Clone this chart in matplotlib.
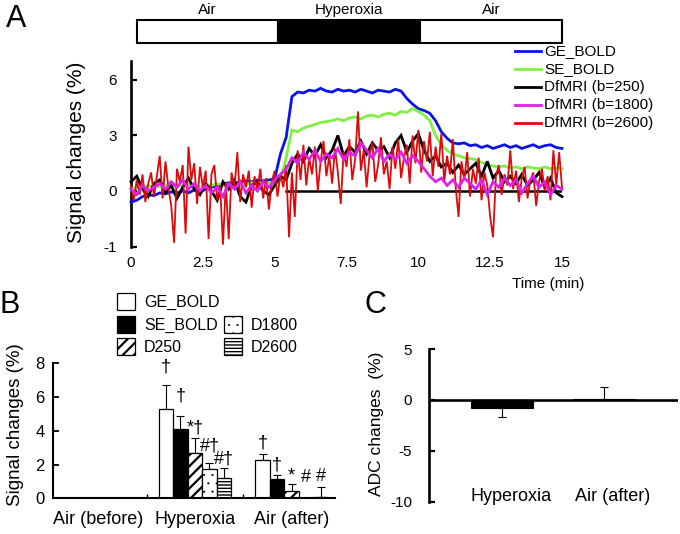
import numpy as np
import matplotlib
matplotlib.use("Agg")
import matplotlib.pyplot as plt
from matplotlib.patches import Rectangle
from matplotlib.lines import Line2D
import matplotlib.transforms as mtransforms

plt.rcParams['font.family'] = ['Liberation Sans', 'DejaVu Sans']
plt.rcParams['hatch.color'] = 'black'
plt.rcParams['axes.unicode_minus'] = False

# ---------------- DATA ----------------
# Panel A time courses (min, % signal change)
t_red = np.round(np.arange(0, 150.5, 1) / 10.0, 2)          # 0.1-min sampling
t_slow = np.round(np.arange(0, 75.5, 1) / 5.0, 2)            # 0.2-min sampling

ge_bold = [-0.6, -0.5, -0.3, -0.2, -0.25, -0.1, -0.15, -0.05, -0.1, 0.0,
           -0.1, 0.05, -0.05, 0.1, 0.2, 0.3, 0.35, 0.45, 0.4, 0.5,
           0.55, 0.5, 0.6, 0.55, 0.6, 0.65, 2.0, 2.9, 5.1, 5.35,
           5.3, 5.45, 5.4, 5.55, 5.4, 5.35, 5.5, 5.4, 5.45, 5.35,
           5.5, 5.4, 5.3, 5.45, 5.4, 5.35, 5.5, 5.4, 5.0, 4.7,
           4.45, 4.35, 4.2, 3.8, 3.2, 2.85, 2.6, 2.55, 2.6, 2.45,
           2.5, 2.35, 2.45, 2.3, 2.4, 2.5, 2.35, 2.45, 2.3, 2.4,
           2.5, 2.35, 2.45, 2.5, 2.35, 2.3]
se_bold = [0.1, 0.2, 0.15, 0.3, 0.2, 0.25, 0.35, 0.2, 0.3, 0.25,
           0.35, 0.3, 0.2, 0.35, 0.3, 0.4, 0.3, 0.35, 0.4, 0.3,
           0.35, 0.45, 0.4, 0.35, 0.45, 0.4, 0.6, 1.8, 3.3, 3.2,
           3.4, 3.5, 3.6, 3.7, 3.75, 3.8, 3.9, 3.8, 3.95, 4.0,
           3.9, 4.05, 4.1, 4.0, 4.15, 4.2, 4.1, 4.3, 4.25, 4.45,
           4.3, 4.1, 3.8, 3.0, 2.5, 2.2, 2.0, 1.9, 1.8, 1.75,
           1.7, 1.55, 1.4, 1.35, 1.3, 1.35, 1.25, 1.3, 1.2, 1.3,
           1.25, 1.2, 1.3, 1.2, 1.25, 1.2]
df_250 = [0.5, 0.8, 0.1, -0.3, 0.4, 0.6, -0.1, 0.3, -0.4, 0.2,
          0.7, 0.1, -0.2, 0.4, 0.0, -0.5, 0.5, 0.1, 0.6, -0.3,
          -0.6, 0.3, 0.5, 0.0, -0.2, 0.3, 0.8, 0.6, 1.5, 2.0,
          1.6, 2.3, 1.9, 2.5, 1.8, 2.2, 3.0, 1.9, 2.4, 2.1,
          2.7, 2.0, 2.6, 2.2, 2.4, 1.8, 2.6, 3.0, 2.1, 2.7,
          3.1, 2.2, 1.6, 1.9, 1.3, 1.5, 1.0, 1.4, 0.9, 1.2,
          1.5, 0.8, 1.6, 0.7, 1.1, 0.5, 0.8, 0.4, 0.9, 0.3,
          0.6, 1.0, 0.2, 0.7, -0.1, -0.3]
df_1800 = [0.1, -0.2, 0.3, 0.0, 0.2, 0.4, 0.1, 0.5, 0.2, 0.6,
           0.1, 0.4, 0.0, 0.3, -0.1, 0.2, -0.3, 0.4, 0.1, 0.5,
           -0.1, 0.3, 0.0, 0.5, 0.2, 0.6, 0.9, 1.2, 1.8, 1.5,
           2.1, 1.7, 2.2, 1.6, 2.0, 1.8, 2.3, 1.7, 2.1, 1.9,
           2.6, 2.2, 1.8, 2.3, 1.6, 2.0, 1.7, 2.1, 1.5, 1.9,
           1.6, 1.2, 0.8, 0.5, 0.7, 0.3, 0.6, 0.2, 0.7, 0.4,
           0.1, 0.6, -0.2, 0.5, 0.2, 0.7, 0.3, 0.6, -0.1, 0.4,
           0.8, 0.2, 0.5, -0.2, 0.3, 0.1]
df_2600 = [0.3, -0.5, 0.6, -0.2, 0.9, -0.6, 0.4, 1.0, -0.3, 0.8,
           1.9, -0.4, 1.6, 0.2, -0.8, -2.8, 1.2, 0.5, 1.4, -2.3,
           2.4, 0.6, 1.5, -0.7, 1.3, 0.2, 1.1, -2.6, 0.9, 1.4,
           -0.5, 0.3, -2.9, 0.4, -2.6, 1.0, 0.1, 2.1, -0.6, 0.9,
           0.2, 1.1, -0.9, 0.8, 0.0, 1.2, -0.4, 0.7, -1.0, 0.5,
           1.1, -0.3, 0.9, 0.2, 1.4, -2.5, 1.0, -1.4, 2.2, 0.6,
           2.5, 0.3, 1.8, 0.9, 2.4, 0.0, 1.6, 2.7, 0.8, 1.9,
           0.4, 2.3, 1.0, -0.7, 2.1, 1.3, 2.8, 0.6, 1.7, 4.3,
           1.1, 2.2, 0.2, 1.9, 2.6, 0.5, 1.4, 2.9, 0.9, 1.6,
           0.1, 2.4, 1.2, 2.8, 0.7, 1.8, 2.5, 0.4, 3.0, 1.5,
           3.3, 1.0, 2.7, 1.6, 3.2, 0.8, 2.4, 1.3, 3.1, 0.5,
           1.9, 0.9, 2.8, 0.2, -1.4, 1.6, 0.6, 2.1, -0.3, 1.2,
           0.4, 1.8, -0.5, 1.0, 0.3, -1.4, -2.5, 0.8, 1.4, -0.2,
           0.9, 0.3, 2.2, 0.1, 1.1, -0.6, 0.7, 1.3, -0.4, 0.6,
           1.0, -0.8, 0.5, 1.2, 0.0, 0.8, -0.5, 2.2, 0.3, 2.1, 0.2]
baseline_t = [5.4, 15.0]
baseline_y = [0.0, 0.0]

A_series = [("GE_BOLD", t_slow, ge_bold, "#0a14e6", 2.0),
            ("SE_BOLD", t_slow, se_bold, "#80f040", 2.0),
            ("DfMRI (b=250)", t_slow, df_250, "#000000", 2.0),
            ("DfMRI (b=2600)", t_red, df_2600, "#dc0a0a", 1.3),
            ("DfMRI (b=1800)", t_slow, df_1800, "#e020e8", 2.0)]
A_legend_order = ["GE_BOLD", "SE_BOLD", "DfMRI (b=250)", "DfMRI (b=1800)", "DfMRI (b=2600)"]
A_xticks = [0, 2.5, 5, 7.5, 10, 12.5, 15]
A_xticklabels = ["0", "2.5", "5", "7.5", "10", "12.5", "15"]
A_yticks = [-3.0, 0, 3, 6]
A_yticklabels = ["-1", "0", "3", "6"]
stim_labels = ["Air", "Hyperoxia", "Air"]
stim_edges = [0.2, 5.1, 10.05, 15.0]
stim_colors = ["white", "black", "white"]

# Panel B
B_groups = ["Air (before)", "Hyperoxia", "Air (after)"]
B_series = ["GE_BOLD", "SE_BOLD", "D250", "D1800", "D2600"]
B_values = {"GE_BOLD": [0.0, 5.3, 2.25],
            "SE_BOLD": [0.0, 4.08, 1.17],
            "D250":    [0.0, 2.67, 0.45],
            "D1800":   [0.0, 1.72, 0.04],
            "D2600":   [0.0, 1.23, 0.10]}
B_errors = {"GE_BOLD": [0.0, 1.42, 0.35],
            "SE_BOLD": [0.0, 0.80, 0.19],
            "D250":    [0.0, 0.89, 0.38],
            "D1800":   [0.0, 0.36, 0.0],
            "D2600":   [0.0, 0.55, 0.55]}
B_face = {"GE_BOLD": "white", "SE_BOLD": "black", "D250": "white",
          "D1800": "white", "D2600": "white"}
B_hatch = {"GE_BOLD": None, "SE_BOLD": None, "D250": "///",
           "D1800": "..", "D2600": "-----"}
B_hatch_lw = {"GE_BOLD": 1.0, "SE_BOLD": 1.0, "D250": 1.6,
              "D1800": 0.3, "D2600": 1.0}
B_annot = [(1, 0, 7.8, "†"), (1, 1, 6.05, "†"), (1, 2, 4.15, "*†"),
           (1, 3, 3.1, "#†"), (1, 4, 2.3, "#†"),
           (2, 0, 3.25, "†"), (2, 1, 2.0, "†"), (2, 2, 1.3, "*"),
           (2, 3, 1.25, "#"), (2, 4, 1.3, "#")]

# Panel C
C_groups = ["Hyperoxia", "Air (after)"]
C_values = [-0.8, 0.1]
C_errors = [0.9, 1.2]

# ---------------- FIGURE ----------------
W, H = 680, 534
fig = plt.figure(figsize=(6.8, 5.34), dpi=100)


def px_axes(l, t, r, b):
    return fig.add_axes([l / W, 1 - b / H, (r - l) / W, (b - t) / H])


def fx(x):
    return x / W


def fy(y):
    return 1 - y / H


def set_hlw(patch, lw):
    if hasattr(patch, "set_hatch_linewidth"):
        try:
            patch.set_hatch_linewidth(lw)
        except Exception:
            pass


# ---- Panel A ----
axA = px_axes(131, 61.5, 562, 246.5)
axA.set_xlim(0, 15)
axA.set_ylim(-3.0, 7.0)
colors = {}
for name, tt, yy, c, lw in A_series:
    axA.plot(tt, yy, color=c, lw=lw, solid_joinstyle='miter', clip_on=False, zorder=3)
    colors[name] = (c, lw)
axA.plot(baseline_t, baseline_y, color='black', lw=1.8, zorder=2.5)
for s in ['top', 'right', 'bottom']:
    axA.spines[s].set_visible(False)
axA.spines['left'].set_linewidth(1.9)
axA.set_xticks(A_xticks)
axA.set_xticklabels(A_xticklabels)
axA.set_yticks(A_yticks)
axA.set_yticklabels(A_yticklabels)
axA.tick_params(axis='x', length=0, pad=7, labelsize=11)
axA.tick_params(axis='y', direction='in', length=4, width=1.6, pad=10, labelsize=11)
fig.text(fx(76), fy(152), "Signal changes (%)", rotation=90, ha='center', va='center', fontsize=15)
fig.text(fx(548), fy(284), "Time (min)", ha='center', va='center', fontsize=11)
fig.text(fx(6), fy(19), "A", ha='left', va='center', fontsize=22)

# stimulus bar (x in time units, y in figure)
trans = mtransforms.blended_transform_factory(axA.transData, fig.transFigure)
for lab, x0, x1, c in zip(stim_labels, stim_edges[:-1], stim_edges[1:], stim_colors):
    r = Rectangle((x0, fy(43)), x1 - x0, fy(20) - fy(43), transform=trans,
                  facecolor=c, edgecolor='black', lw=1.5, clip_on=False)
    fig.add_artist(r)
    fig.text((x0 + x1) / 2, fy(10), lab, transform=trans, ha='center', va='center', fontsize=11)

# legend A
for i, name in enumerate(A_legend_order):
    yc = 51 + i * 18
    c, lw = colors[name]
    fig.add_artist(Line2D([fx(515), fx(541)], [fy(yc), fy(yc)], color=c, lw=2.0))
    fig.text(fx(544), fy(yc), name, ha='left', va='center', fontsize=11)

# ---- Panel B ----
axB = px_axes(53, 363.3, 335, 498.3)
axB.set_xlim(-0.47, 2.45)
axB.set_ylim(0, 8)
bw = 0.15
gx = np.arange(len(B_groups))
for k, s in enumerate(B_series):
    xs = gx + (k - 2) * bw
    bars = axB.bar(xs, B_values[s], width=bw, color=B_face[s], edgecolor='black',
                   lw=0.9, hatch=B_hatch[s], zorder=2)
    for p in bars:
        set_hlw(p, B_hatch_lw[s])
    err = np.array(B_errors[s])
    axB.errorbar(xs, B_values[s], yerr=[np.zeros_like(err), err], fmt='none',
                 ecolor='black', elinewidth=0.8, capsize=3, capthick=0.8, zorder=1)
for g, k, yv, txt in B_annot:
    axB.text(g + (k - 2) * bw, yv, txt, ha='center', va='center', fontsize=13)
for s in ['top', 'right']:
    axB.spines[s].set_visible(False)
axB.spines['left'].set_linewidth(1.5)
axB.spines['bottom'].set_linewidth(1.5)
axB.set_yticks([0, 2, 4, 6, 8])
axB.tick_params(axis='y', direction='in', length=4, width=1.3, pad=6, labelsize=12)
axB.set_xticks(gx)
axB.set_xticklabels(B_groups)
axB.set_xticks([0.5, 1.5], minor=True)
axB.tick_params(axis='x', which='major', length=0, pad=9, labelsize=13)
axB.tick_params(axis='x', which='minor', direction='in', length=3, width=1.0)
fig.text(fx(16), fy(425), "Signal changes (%)", rotation=90, ha='center', va='center', fontsize=13.5)
fig.text(fx(0), fy(305), "B", ha='left', va='center', fontsize=22)

# legend B
B_leg_pos = {"GE_BOLD": (117, 293), "SE_BOLD": (117, 316), "D250": (117, 338),
             "D1800": (224, 316), "D2600": (224, 338)}
for s in B_series:
    x0, y0 = B_leg_pos[s]
    rr = Rectangle((fx(x0), fy(y0 + 17)), 18 / W, 17 / H, transform=fig.transFigure,
                   facecolor=B_face[s], edgecolor='black', lw=0.9, hatch=B_hatch[s])
    set_hlw(rr, B_hatch_lw[s])
    fig.add_artist(rr)
    fig.text(fx(x0 + 27), fy(y0 + 9), s, ha='left', va='center', fontsize=11.5)

# ---- Panel C ----
axC = px_axes(429, 349, 678, 501.7)
axC.set_ylim(-10, 5)
axC.set_xlim(-0.714, 1.73)
cx = np.arange(len(C_groups))
axC.bar(cx, C_values, width=0.61, color='black', edgecolor='black', lw=0.8, zorder=2)
cv = np.array(C_values)
ce = np.array(C_errors)
lower = np.where(cv < 0, ce, 0)
upper = np.where(cv >= 0, ce, 0)
axC.errorbar(cx, C_values, yerr=[lower, upper], fmt='none', ecolor='black',
             elinewidth=0.8, capsize=3, capthick=0.8, zorder=1)
axC.axhline(0, color='black', lw=1.9, zorder=3)
for s in ['top', 'right', 'bottom']:
    axC.spines[s].set_visible(False)
axC.spines['left'].set_linewidth(1.9)
axC.set_yticks([-10, -5, 0, 5])
axC.tick_params(axis='y', direction='in', length=4, width=1.6, pad=12, labelsize=11)
axC.set_xticks([])
for i, g in enumerate(C_groups):
    axC.text(i + 0.09, -9.5, g, ha='center', va='center', fontsize=13)
fig.text(fx(377), fy(424), "ADC changes  (%)", rotation=90, ha='center', va='center', fontsize=12.5)
fig.text(fx(365), fy(305), "C", ha='left', va='center', fontsize=22)

fig.savefig("out.png", dpi=100)
